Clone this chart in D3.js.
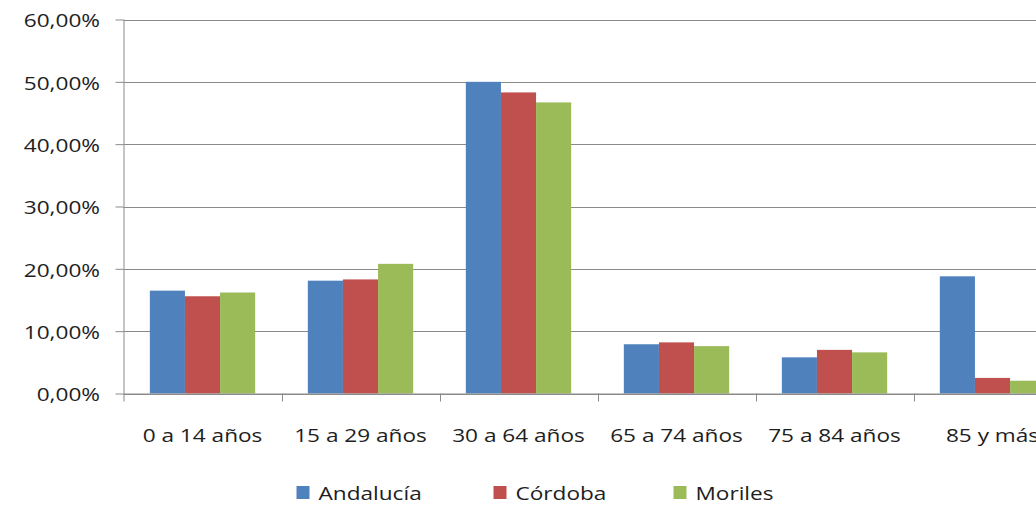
<!DOCTYPE html>
<html>
<head>
<meta charset="utf-8">
<script src="https://cdn.jsdelivr.net/npm/d3@7"></script>
<style>
  html, body { margin: 0; padding: 0; background: #fff; overflow: hidden; }
  svg { display: block; }
  text { font-family: "Open Sans", sans-serif; fill: #1e1e1e; }
</style>
</head>
<body>
<svg id="chart" width="1036" height="505"></svg>
<script>
// Age groups
const categories = ["0 a 14 años", "15 a 29 años", "30 a 64 años", "65 a 74 años", "75 a 84 años", "85 y más"];
// Series (share of population, %)
const seriesNames = ["Andalucía", "Córdoba", "Moriles"];
const andalucia = [16.5, 18.1, 50.0, 7.9, 5.8, 18.8];
const cordoba   = [15.6, 18.3, 48.3, 8.2, 7.0, 2.5];
const moriles   = [16.2, 20.8, 46.7, 7.6, 6.6, 2.05];
const yTicks = [0, 10, 20, 30, 40, 50, 60];
const colors = ["#4F81BD", "#C0504D", "#9BBB59"];

const seriesValues = [andalucia, cordoba, moriles];
const rows = categories.map((c, i) => ({
  cat: c,
  vals: seriesNames.map((s, j) => ({ key: s, value: seriesValues[j][i], color: colors[j] }))
}));

const svg = d3.select("#chart");
const plotLeft = 123.5, plotTop = 19.5, plotBottom = 393.5;
const step = 158;
const textScale = 1.19;
const fmt = v => d3.format(".2f")(v).replace(".", ",") + "%";

const x = d3.scaleBand().domain(categories).range([plotLeft, plotLeft + step * categories.length]).padding(0);
const xs = d3.scaleBand().domain(seriesNames).range([0, x.bandwidth()]).paddingInner(0).paddingOuter(0.75);
const y = d3.scaleLinear().domain([0, 60]).range([plotBottom, plotTop]);

// Gridlines
svg.append("g")
  .selectAll("line")
  .data(yTicks)
  .join("line")
  .attr("x1", plotLeft).attr("x2", 1036)
  .attr("y1", d => Math.round(y(d)) + 0.5).attr("y2", d => Math.round(y(d)) + 0.5)
  .attr("stroke", "#8a8a8a").attr("stroke-width", 1);

// Bars
const groups = svg.append("g")
  .selectAll("g")
  .data(rows)
  .join("g")
  .attr("transform", d => `translate(${x(d.cat)},0)`);

groups.selectAll("rect")
  .data(d => d.vals)
  .join("rect")
  .attr("x", d => xs(d.key))
  .attr("width", xs.bandwidth())
  .attr("y", d => y(d.value))
  .attr("height", d => y(0) - y(d.value))
  .attr("fill", d => d.color);

// Y axis
const yAxis = svg.append("g")
  .attr("transform", `translate(${plotLeft},0)`)
  .call(d3.axisLeft(y).tickValues(yTicks).tickFormat(fmt).tickSize(8).tickPadding(0));
yAxis.select(".domain").attr("stroke", "#8a8a8a").attr("d", `M0.5,${plotTop}V${plotBottom + 8}`);
yAxis.selectAll(".tick line").attr("stroke", "#8a8a8a");
yAxis.selectAll(".tick text")
  .attr("x", -23.5 / textScale)
  .attr("dy", "0.38em")
  .attr("transform", `scale(${textScale},1)`)
  .style("font-size", "19px")
  .style("fill", "#1e1e1e");

// X axis with tick marks at category boundaries
const xAxisG = svg.append("g").attr("transform", `translate(0,${plotBottom})`);
xAxisG.append("line")
  .attr("x1", plotLeft).attr("x2", 1036)
  .attr("y1", 0.5).attr("y2", 0.5)
  .attr("stroke", "#8a8a8a");
xAxisG.selectAll("line.tk")
  .data(categories.slice(1))
  .join("line")
  .attr("class", "tk")
  .attr("x1", d => Math.round(x(d)) + 0.5).attr("x2", d => Math.round(x(d)) + 0.5)
  .attr("y1", 0).attr("y2", 8)
  .attr("stroke", "#8a8a8a");
xAxisG.selectAll("text")
  .data(categories)
  .join("text")
  .attr("transform", d => `translate(${x(d) + x.bandwidth() / 2},48.5) scale(${textScale},1)`)
  .attr("text-anchor", "middle")
  .style("font-size", "19px")
  .text(d => d);

// Legend
const legendX = [296.5, 493.5, 673.5];
const legend = svg.append("g")
  .selectAll("g")
  .data(seriesNames)
  .join("g")
  .attr("transform", (d, i) => `translate(${legendX[i]},486)`);
legend.append("rect")
  .attr("width", 13).attr("height", 13)
  .attr("fill", (d, i) => colors[i]);
legend.append("text")
  .attr("transform", `translate(22,14) scale(${textScale},1)`)
  .style("font-size", "19px")
  .text(d => d);
</script>
</body>
</html>
